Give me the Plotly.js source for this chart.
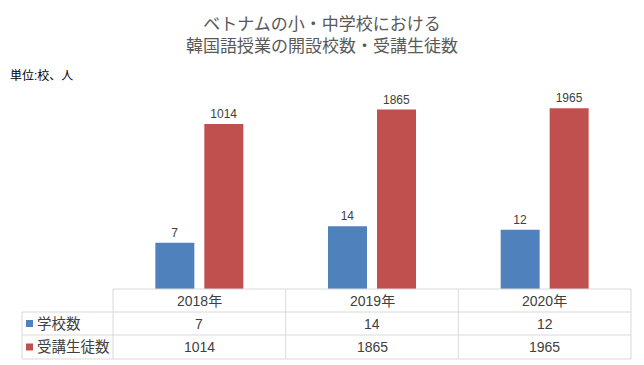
<!DOCTYPE html>
<html>
<head>
<meta charset="utf-8">
<script src="https://cdn.plot.ly/plotly-3.0.1.min.js"></script>
<style>html,body{margin:0;padding:0;background:#fff;}#chart{width:644px;height:365px;}</style>
</head>
<body>
<div id="chart"></div>
<script>
const categories = ['2018年', '2019年', '2020年'];
const schoolCounts = [7, 14, 12];
const studentCounts = [1014, 1865, 1965];
const seriesNames = ['学校数', '受講生徒数'];
const seriesColors = ['#4f81bd', '#c0504d'];
const titleText = 'ベトナムの小・中学校における<br>韓国語授業の開設校数・受講生徒数';
const unitText = '単位:校、人';

const FONT = 'Arial, "Liberation Sans", "Noto Sans CJK JP", sans-serif';
const W = 644, H = 365;
const L = 113, R = 13, T = 97, B = 76;
const PW = W - L - R, PH = H - T - B;
const px = x => (x - L) / PW;
const py = y => (T + PH - y) / PH;

const seriesValues = [schoolCounts, studentCounts];
const traces = seriesValues.map((vals, i) => ({
  type: 'bar',
  name: seriesNames[i],
  x: categories,
  y: vals,
  marker: {color: seriesColors[i]},
  text: vals.map(String),
  textposition: 'outside',
  textfont: {family: FONT, size: 12, color: '#404040'},
  cliponaxis: false,
  hoverinfo: 'x+y'
}));

const lineColor = '#d9d9d9';
const shapes = [];
function hline(y, x0, x1) {
  shapes.push({type: 'line', xref: 'paper', yref: 'paper', x0: px(x0), x1: px(x1), y0: py(y), y1: py(y), line: {color: lineColor, width: 1}});
}
function vline(x, y0, y1) {
  shapes.push({type: 'line', xref: 'paper', yref: 'paper', x0: px(x), x1: px(x), y0: py(y0), y1: py(y1), line: {color: lineColor, width: 1}});
}
const rowY = [289, 312, 335, 359];
hline(rowY[0], L, L + PW);
hline(rowY[1], 22, L + PW);
hline(rowY[2], 22, L + PW);
hline(rowY[3], 22, L + PW);
vline(22, rowY[1], rowY[3]);
for (let i = 0; i <= categories.length; i++) {
  vline(L + PW * i / categories.length, rowY[0], rowY[3]);
}
// legend keys
seriesColors.forEach((c, i) => {
  const cy = (rowY[i + 1] + rowY[i + 2]) / 2;
  shapes.push({type: 'rect', xref: 'paper', yref: 'paper', x0: px(26), x1: px(33), y0: py(cy - 3.5), y1: py(cy + 3.5), fillcolor: c, line: {width: 0}});
});

const annotations = [];
const cellFont = {family: FONT, size: 14, color: '#404040'};
categories.forEach((c, j) => {
  annotations.push({xref: 'x', yref: 'paper', x: c, y: py((rowY[0] + rowY[1]) / 2), text: c, showarrow: false, font: cellFont, xanchor: 'center', yanchor: 'middle'});
  seriesValues.forEach((vals, i) => {
    annotations.push({xref: 'x', yref: 'paper', x: c, y: py((rowY[i + 1] + rowY[i + 2]) / 2), text: String(vals[j]), showarrow: false, font: cellFont, xanchor: 'center', yanchor: 'middle'});
  });
});
seriesNames.forEach((n, i) => {
  annotations.push({xref: 'paper', yref: 'paper', x: px(35), y: py((rowY[i + 1] + rowY[i + 2]) / 2), text: n, showarrow: false, font: {family: FONT, size: 14.5, color: '#404040'}, xanchor: 'left', yanchor: 'middle'});
});
annotations.push({xref: 'paper', yref: 'paper', x: px(8), y: py(76), text: unitText, showarrow: false, font: {family: FONT, size: 12, color: '#000000'}, xanchor: 'left', yanchor: 'middle'});

const layout = {
  width: W, height: H,
  margin: {l: L, r: R, t: T, b: B, pad: 0},
  paper_bgcolor: '#ffffff', plot_bgcolor: '#ffffff',
  title: {text: titleText, x: 0.5, xref: 'container', xanchor: 'center', y: 1 - 29.5 / H, yref: 'container', yanchor: 'middle', font: {family: FONT, size: 17, color: '#595959'}},
  showlegend: false,
  barmode: 'group',
  bargap: 0.4325,
  bargroupgap: 0.204,
  xaxis: {type: 'category', showticklabels: false, showline: false, showgrid: false, zeroline: false, ticks: ''},
  yaxis: {type: 'log', range: [0, 3.5], visible: false, showgrid: false},
  shapes: shapes,
  annotations: annotations
};

Plotly.newPlot('chart', traces, layout, {displayModeBar: false, staticPlot: true});
</script>
</body>
</html>
